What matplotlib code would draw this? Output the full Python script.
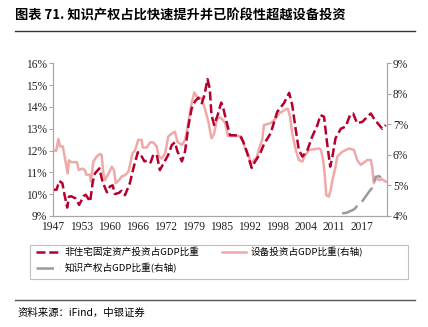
import matplotlib
matplotlib.use('Agg')
import matplotlib.pyplot as plt
import numpy as np

plt.rcParams['font.family'] = ['Liberation Serif', 'Noto Sans CJK SC']

# 非住宅固定资产投资占GDP比重 (左轴, %)
fixed_x = [1947.0, 1947.8, 1948.4, 1949.1, 1949.6, 1950.2, 1950.6, 1951.1, 1952.1, 1952.9,
           1953.9, 1954.4, 1955.4, 1956.0, 1956.5, 1957.5, 1958.2, 1959.2, 1959.9, 1960.5,
           1961.0, 1961.9, 1962.5, 1963.3, 1964.4, 1965.2, 1966.2, 1966.9, 1967.7, 1968.5,
           1969.1, 1969.7, 1970.5, 1971.2, 1972.0, 1973.1, 1973.9, 1974.6, 1975.2, 1976.2,
           1976.9, 1977.7, 1978.4, 1979.2, 1979.9, 1980.7, 1981.3, 1982.0, 1982.5, 1982.9,
           1983.5, 1984.3, 1985.1, 1985.5, 1986.3, 1987.1, 1988.2, 1989.4, 1990.1, 1990.9,
           1992.0, 1992.8, 1993.9, 1994.8, 1996.3, 1997.8, 1999.3, 2000.5, 2001.2, 2002.0,
           2002.7, 2003.5, 2004.6, 2005.7, 2006.9, 2007.6, 2008.4, 2009.1, 2009.8, 2010.3,
           2011.0, 2012.2, 2013.3, 2014.3, 2015.0, 2015.9, 2017.1, 2018.2, 2019.0, 2019.7,
           2020.9, 2021.6, 2022.4]
fixed_y = [10.2, 10.2, 10.6, 10.5, 9.96, 9.38, 9.88, 9.9, 9.8, 9.5,
           9.9, 9.97, 9.65, 10.57, 10.95, 11.18, 10.57, 10.08, 10.35, 10.4,
           10.0, 10.05, 10.15, 9.95, 10.5, 11.18, 11.92, 11.8, 11.5, 11.55,
           11.45, 11.8, 11.8, 11.1, 11.4, 11.8, 12.25, 12.38, 11.95, 11.5,
           11.95, 13.17, 13.93, 14.27, 14.42, 14.17, 14.55, 15.28, 14.85, 13.63,
           13.17, 13.63, 14.2, 14.0, 13.32, 12.7, 12.7, 12.67, 12.4, 11.95,
           11.2, 11.5, 11.85, 12.3, 12.79, 13.78, 14.17, 14.65, 14.09, 12.94,
           12.02, 11.72, 12.0, 12.63, 13.17, 13.63, 13.55, 12.33, 11.26, 11.72,
           12.56, 13.0, 13.1, 13.63, 13.7, 13.25, 13.32, 13.55, 13.7, 13.47,
           13.17, 13.0, 13.17]

# 设备投资占GDP比重 (右轴, %)
equip_x = [1947.0, 1947.7, 1948.2, 1948.6, 1949.2, 1949.7, 1950.3, 1950.6, 1951.2, 1952.4,
           1952.8, 1953.6, 1954.2, 1954.5, 1955.3, 1955.6, 1956.1, 1956.9, 1957.6, 1958.0,
           1958.4, 1958.8, 1959.5, 1960.3, 1960.8, 1961.2, 1962.0, 1962.6, 1963.3, 1964.1,
           1965.0, 1965.6, 1966.3, 1967.1, 1967.3, 1968.2, 1969.0, 1969.7, 1970.5, 1970.9,
           1971.6, 1972.4, 1973.1, 1973.9, 1974.6, 1975.2, 1976.2, 1976.9, 1977.3, 1978.3,
           1979.0, 1979.6, 1980.7, 1981.4, 1982.2, 1982.9, 1983.5, 1984.2, 1985.0, 1986.0,
           1986.6, 1989.0, 1989.7, 1990.5, 1991.4, 1991.8, 1992.6, 1993.1, 1993.7, 1994.4,
           1994.8, 1996.3, 1997.5, 1998.2, 1998.9, 1999.7, 2000.2, 2000.7, 2001.2, 2002.0,
           2002.7, 2003.5, 2003.9, 2005.0, 2007.3, 2007.7, 2008.2, 2008.6, 2008.9, 2009.5,
           2009.9, 2010.3, 2011.0, 2011.4, 2012.5, 2014.1, 2015.2, 2015.9, 2016.7, 2018.2,
           2019.0, 2019.3, 2019.7, 2020.1, 2020.9, 2021.6, 2022.4]
equip_y = [6.15, 6.13, 6.52, 6.27, 6.28, 5.88, 5.39, 5.82, 5.76, 5.76,
           5.5, 5.55, 5.5, 5.35, 5.35, 5.12, 5.77, 5.95, 6.03, 6.0,
           5.39, 5.17, 5.37, 5.61, 5.5, 5.07, 5.18, 5.3, 5.33, 5.46,
           6.05, 6.16, 6.49, 6.49, 6.24, 6.24, 6.41, 6.41, 6.27, 5.97,
           5.88, 6.05, 6.6, 6.7, 6.76, 6.43, 6.32, 6.49, 6.76, 7.63,
           8.05, 7.9, 7.85, 7.52, 7.09, 6.54, 6.7, 7.2, 7.22, 7.05,
           6.62, 6.62, 6.6, 6.21, 5.94, 5.7, 5.85, 5.89, 6.21, 6.5,
           6.98, 7.04, 7.2, 7.36, 7.42, 7.49, 7.52, 7.25, 6.7, 6.16,
           5.83, 5.78, 5.94, 6.16, 6.21, 6.16, 5.83, 5.28, 4.68, 4.63,
           4.85, 5.17, 5.61, 5.94, 6.1, 6.21, 6.16, 5.83, 5.67, 5.83,
           5.83, 5.61, 5.07, 5.23, 5.17, 5.2, 5.12]

# 知识产权占GDP比重 (右轴, %)
ip_x = [2012.5, 2013.5, 2015.2, 2015.9, 2016.7, 2017.8, 2018.6, 2019.2, 2019.6, 2020.1, 2020.9, 2021.3]
ip_y = [4.08, 4.1, 4.21, 4.32, 4.4, 4.63, 4.79, 4.9, 5.07, 5.28, 5.3, 5.25]

year_labels = ['1947', '1953', '1960', '1966', '1972', '1979', '1985', '1992', '1998', '2004', '2011', '2017']

fig = plt.figure(figsize=(4.28, 3.27), dpi=100)
ax = fig.add_axes([0.124, 0.340, 0.7795, 0.466])
ax2 = ax.twinx()

c_fixed = '#B5002F'
c_equip = '#F0A9A8'
c_ip = '#9A9A9A'
c_axis = '#A6A6A6'
serif = ['Liberation Serif', 'DejaVu Serif']
cjk = ['Noto Sans CJK SC']

l2, = ax2.plot(equip_x, equip_y, color=c_equip, lw=1.8, label='设备投资占GDP比重(右轴)')
l3, = ax2.plot(ip_x, ip_y, color=c_ip, lw=1.8, dashes=(7, 2.5), label='知识产权占GDP比重(右轴)')
l1, = ax.plot(fixed_x, fixed_y, color=c_fixed, lw=1.8, dashes=(3.6, 1.5), label='非住宅固定资产投资占GDP比重')
ax.set_zorder(ax2.get_zorder() + 1)
ax.patch.set_visible(False)

ax.set_xlim(1947, 2022.6)
ax.set_ylim(9, 16)
ax2.set_ylim(4, 9)
ax.set_yticks(np.arange(9, 17, 1))
ax.set_yticklabels(['%d%%' % v for v in range(9, 17)], family=serif)
ax2.set_yticks(np.arange(4, 10, 1))
ax2.set_yticklabels(['%d%%' % v for v in range(4, 10)], family=serif)
ax.set_xticks(np.linspace(1947, 2017, len(year_labels)))
ax.set_xticklabels(year_labels, family=serif)

for a in (ax, ax2):
    a.spines['top'].set_visible(False)
    for s in ('left', 'right', 'bottom'):
        a.spines[s].set_color(c_axis)
        a.spines[s].set_linewidth(0.8)
    a.tick_params(axis='y', labelsize=8.3, length=3, width=0.8, color=c_axis, pad=1.5, labelcolor='#222222')
    a.tick_params(axis='x', labelsize=8.3, length=0, pad=4, labelcolor='#222222')

# legend frame drawn separately, entries laid out inside it
W, H = 428.0, 327.0
frame = plt.Rectangle((30 / W, 1 - 279 / H), 378 / W, 34 / H, transform=fig.transFigure,
                      fill=False, edgecolor='#BFBFBF', lw=0.8)
fig.add_artist(frame)
# column-major order -> row1: l1, l2 ; row2: l3
leg = fig.legend([l1, l3, l2], [l1.get_label(), l3.get_label(), l2.get_label()],
                 loc='upper left', bbox_to_anchor=(36 / W, 1 - 247 / H),
                 ncol=2, frameon=False, borderpad=0, borderaxespad=0,
                 handlelength=2.5, handletextpad=0.45, labelspacing=0.6, columnspacing=2.4,
                 prop={'family': cjk, 'size': 6.9})

# title
fig.text(0.035, 0.952, '图表 71. 知识产权占比快速提升并已阶段性超越设备投资', fontsize=9.5,
         fontweight='bold', family=cjk, va='center', ha='left')
fig.add_artist(plt.Line2D([0.035, 0.97], [0.905, 0.905], color='#333333', lw=1.0))
fig.add_artist(plt.Line2D([0.035, 0.97], [0.083, 0.083], color='#555555', lw=1.0))
fig.text(0.04, 0.06, '资料来源：iFind，中银证券', fontsize=7.5, style='italic',
         family=cjk, va='top', ha='left')

fig.savefig('out.png', dpi=100)
